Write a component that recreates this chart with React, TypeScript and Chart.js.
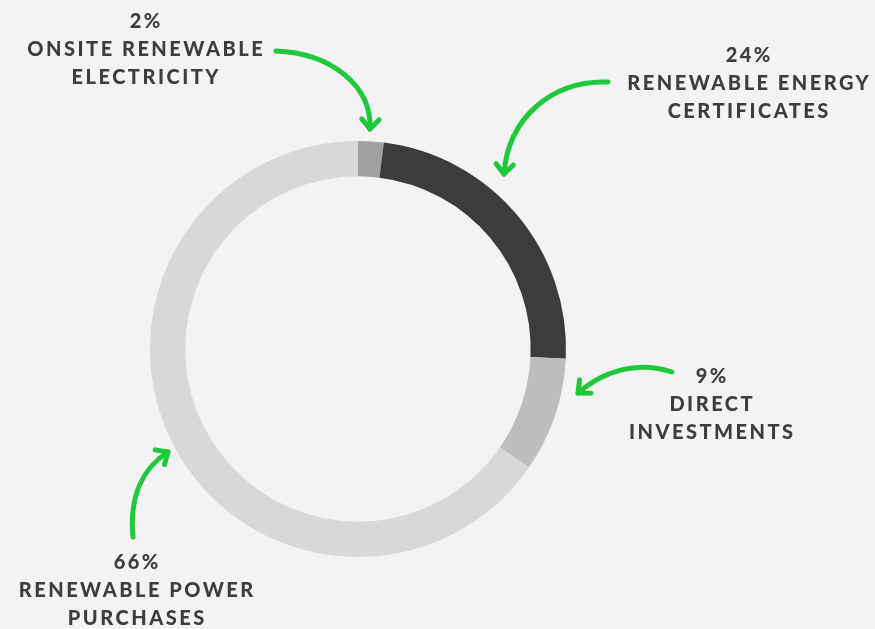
import React, { useEffect, useRef } from "react";
import { Chart, registerables } from "chart.js";

Chart.register(...registerables);

const categories = [
  "Onsite Renewable Electricity",
  "Renewable Energy Certificates",
  "Direct Investments",
  "Renewable Power Purchases",
];
const values = [2, 24, 9, 66];
const labelLines = [
  ["ONSITE RENEWABLE", "ELECTRICITY"],
  ["RENEWABLE ENERGY", "CERTIFICATES"],
  ["DIRECT", "INVESTMENTS"],
  ["RENEWABLE POWER", "PURCHASES"],
];
const colors = ["#a1a1a1", "#3c3c3c", "#bdbdbd", "#d8d8d8"];

// annotation layout (label centre of first line, arrow bezier)
const labelPos = [
  { x: 145, y: 22 },
  { x: 748, y: 56 },
  { x: 711, y: 377 },
  { x: 136, y: 563 },
];
const arrows = [
  [276, 51, 330, 53, 372, 85, 370, 129],
  [608, 82, 552, 80, 508, 118, 504, 174],
  [672, 372, 636, 360, 602, 372, 578, 393],
  [133, 537, 129, 496, 143, 468, 168, 452],
];

const BG = "#f3f3f5";
const GREEN = "#1fc93b";
const TEXT = "#3d3d3d";

const annotate = {
  id: "annotate",
  beforeDraw(chart: any) {
    const ctx = chart.ctx;
    ctx.save();
    ctx.fillStyle = BG;
    ctx.fillRect(0, 0, chart.width, chart.height);
    ctx.restore();
  },
  afterDraw(chart: any) {
    const ctx = chart.ctx;
    ctx.save();
    // arrows
    ctx.strokeStyle = GREEN;
    ctx.lineWidth = 5;
    ctx.lineCap = "round";
    ctx.lineJoin = "round";
    arrows.forEach((a) => {
      const [x0, y0, c1x, c1y, c2x, c2y, x1, y1] = a;
      ctx.beginPath();
      ctx.moveTo(x0, y0);
      ctx.bezierCurveTo(c1x, c1y, c2x, c2y, x1, y1);
      ctx.stroke();
      const ang = Math.atan2(y1 - c2y, x1 - c2x);
      const L = 13;
      const spread = (42 * Math.PI) / 180;
      ctx.beginPath();
      ctx.moveTo(x1 - L * Math.cos(ang - spread), y1 - L * Math.sin(ang - spread));
      ctx.lineTo(x1, y1);
      ctx.lineTo(x1 - L * Math.cos(ang + spread), y1 - L * Math.sin(ang + spread));
      ctx.stroke();
    });
    // labels
    ctx.fillStyle = TEXT;
    ctx.textAlign = "center";
    ctx.textBaseline = "middle";
    ctx.font = "900 20px Lato, 'DejaVu Sans', sans-serif";
    (ctx as any).letterSpacing = "2.5px";
    values.forEach((v, i) => {
      const p = labelPos[i];
      const lines = [v + "%", ...labelLines[i]];
      lines.forEach((t, j) => {
        ctx.fillText(t, p.x + 1.25, p.y + j * 28);
      });
    });
    ctx.restore();
  },
};

export default function App() {
  const ref = useRef<HTMLCanvasElement | null>(null);
  useEffect(() => {
    if (!ref.current) return;
    const chart = new Chart(ref.current, {
      type: "doughnut",
      data: {
        labels: categories,
        datasets: [
          {
            data: values,
            backgroundColor: colors,
            borderWidth: 0,
            hoverOffset: 0,
          },
        ],
      },
      options: {
        responsive: false,
        animation: false,
        cutout: "83%",
        layout: { padding: { left: 150, top: 141, right: 309, bottom: 72 } },
        plugins: {
          legend: { display: false },
          tooltip: { enabled: false },
        },
        events: [],
      },
      plugins: [annotate],
    });
    return () => chart.destroy();
  }, []);
  return (
    <div style={{ position: "fixed", left: 0, top: 0, width: 875, height: 629, background: BG }}>
      <canvas ref={ref} width={875} height={629} style={{ display: "block" }} />
    </div>
  );
}
